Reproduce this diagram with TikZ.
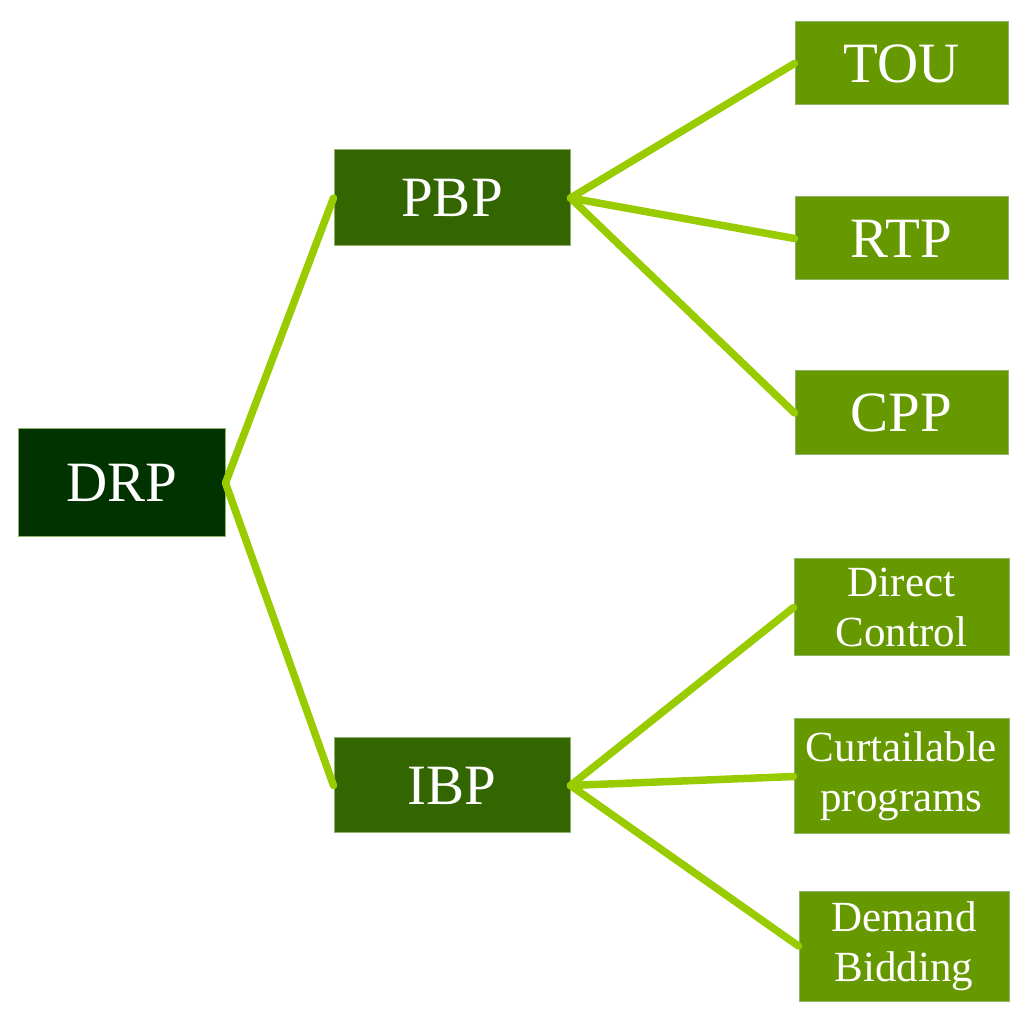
\documentclass[tikz,border=0pt]{standalone}
\usepackage{fontspec}
\setmainfont{Liberation Serif}
\definecolor{rootc}{HTML}{003300}
\definecolor{midc}{HTML}{336600}
\definecolor{leafc}{HTML}{669900}
\definecolor{linec}{HTML}{99CC00}
\definecolor{edgec}{HTML}{8FB36A}
\begin{document}
\begin{tikzpicture}[x=1pt,y=1pt,
  box/.style={rectangle, draw=edgec, line width=1pt, inner sep=0pt, text=white, align=center},
  big/.style={font=\fontsize{57}{60}\selectfont},
  small/.style={font=\fontsize{43}{50}\selectfont},
  conn/.style={draw=linec, line width=7.5pt, line cap=round}]
\useasboundingbox (0,0) rectangle (1024,1014);
\node[box, big, fill=rootc, minimum width=207, minimum height=108] (drp) at (121.5,531) {DRP};
\node[box, big, fill=midc, minimum width=236, minimum height=96] (pbp) at (452,816) {PBP};
\node[box, big, fill=midc, minimum width=236, minimum height=95] (ibp) at (452,228.5) {IBP};
\node[box, big, fill=leafc, minimum width=213, minimum height=83] (tou) at (901.5,950.5) {TOU};
\node[box, big, fill=leafc, minimum width=213, minimum height=83] (rtp) at (901.5,775.5) {RTP};
\node[box, big, fill=leafc, minimum width=213, minimum height=84] (cpp) at (901.5,601) {CPP};
\node[box, small, fill=leafc, minimum width=215, minimum height=97] (dc) at (901.5,406.5) {Direct\\Control};
\node[box, small, fill=leafc, minimum width=215, minimum height=115] (cp) at (901.5,237.5) {Curtailable\\programs};
\node[box, small, fill=leafc, minimum width=210, minimum height=110] (db) at (904,68) {Demand\\Bidding};
\draw[conn] (drp.east) -- (pbp.west);
\draw[conn] (drp.east) -- (ibp.west);
\draw[conn] (pbp.east) -- (tou.west);
\draw[conn] (pbp.east) -- (rtp.west);
\draw[conn] (pbp.east) -- (cpp.west);
\draw[conn] (ibp.east) -- (dc.west);
\draw[conn] (ibp.east) -- (cp.west);
\draw[conn] (ibp.east) -- (db.west);
\end{tikzpicture}
\end{document}
